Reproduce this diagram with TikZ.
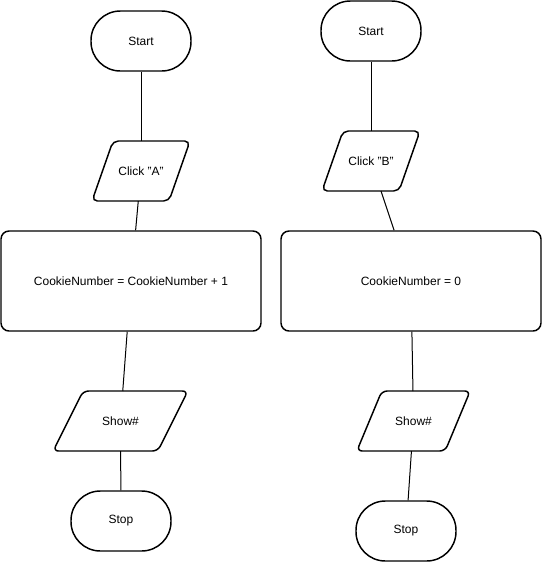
\documentclass[tikz,border=0pt]{standalone}
\usepackage{fontspec}
\setmainfont{Liberation Sans}

\newcommand{\ioframe}[2]{%
  \draw[frame, rounded corners=4pt] ([xshift=#2]#1.north west) -- (#1.north east)
    -- ([xshift=-#2]#1.south east) -- (#1.south west) -- cycle;}

\begin{document}
\begin{tikzpicture}[x=0.75pt, y=-0.75pt,
  frame/.style={line width=1.1pt},
  term/.style={draw, line width=1.1pt, rounded corners=22pt, minimum width=75pt, minimum height=45pt, font=\fontsize{9}{11}\selectfont},
  proc/.style={draw, line width=1.1pt, rounded corners=6pt, minimum width=195pt, minimum height=75pt, font=\fontsize{9}{11}\selectfont},
  io/.style={inner sep=0pt, outer sep=0pt, minimum height=45pt, font=\fontsize{9}{11}\selectfont},
  e/.style={line width=0.75pt}]
  \useasboundingbox (0,0) rectangle (542,562);
  % left chart
  \node[term] (startA) at (141,41) {Start};
  \node[io, minimum width=73.5pt] (clickA) at (141,171) {Click "A"};
  \node[proc] (addA) at (131,281) {CookieNumber = CookieNumber + 1};
  \node[io, minimum width=101pt] (showA) at (120.5,421) {Show\#};
  \node[term] (stopA) at (121,521) {Stop};
  \ioframe{clickA}{15.75pt}
  \ioframe{showA}{22.5pt}
  % right chart
  \node[term] (startB) at (371,31) {Start};
  \node[io, minimum width=73.5pt] (clickB) at (371,161) {Click "B"};
  \node[proc] (resetB) at (411,281) {CookieNumber = 0};
  \node[io, minimum width=85pt] (showB) at (413.5,421) {Show\#};
  \node[term] (stopB) at (406,531) {Stop};
  \ioframe{clickB}{15.75pt}
  \ioframe{showB}{18.75pt}
  % connectors
  \draw[e] (startA) -- (clickA);
  \draw[e] (clickA) -- (addA);
  \draw[e] (addA) -- (showA);
  \draw[e] (showA) -- (stopA);
  \draw[e] (startB) -- (clickB);
  \draw[e] (clickB) -- (resetB);
  \draw[e] (resetB) -- (showB);
  \draw[e] (showB) -- (stopB);
\end{tikzpicture}
\end{document}
